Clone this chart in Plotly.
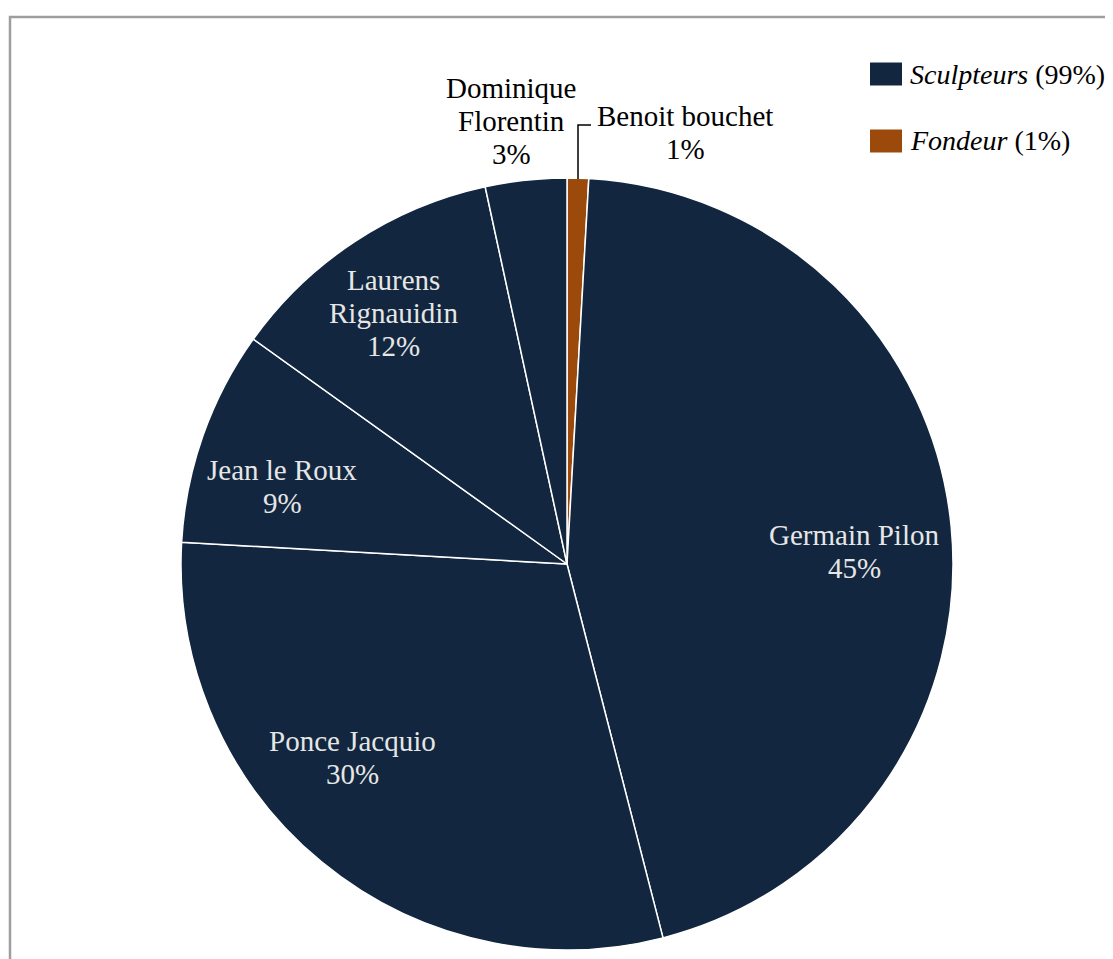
import plotly.graph_objects as go

# Data
names = ["Benoit bouchet", "Germain Pilon", "Ponce Jacquio", "Jean le Roux",
         "Laurens Rignauidin", "Dominique Florentin"]
values = [0.9, 45.1, 29.9, 9.0, 11.7, 3.4]
groups = ["Fondeur", "Sculpteurs", "Sculpteurs", "Sculpteurs", "Sculpteurs", "Sculpteurs"]
label_lines = [["Benoit bouchet"], ["Germain Pilon"], ["Ponce Jacquio"], ["Jean le Roux"],
               ["Laurens", "Rignauidin"], ["Dominique", "Florentin"]]
legend_names = ["Sculpteurs", "Fondeur"]
legend_pcts = ["99%", "1%"]

NAVY = "#12263F"
ORANGE = "#9C4A0B"
group_color = {"Sculpteurs": NAVY, "Fondeur": ORANGE}
colors = [group_color[g] for g in groups]

W, H = 1113, 959
OFF = 8  # page body margin
FONT = "Liberation Serif"
FS = 29
LEG_FS = 28
LINE = 33


def px(x):
    return (x - OFF) / W


def py(y):
    return 1 - (y - OFF) / H


cx, cy, R = 567, 564, 386

fig = go.Figure()
fig.add_trace(go.Pie(
    labels=names, values=values, sort=False, direction="clockwise", rotation=0,
    marker=dict(colors=colors, line=dict(color="white", width=1.5)),
    textinfo="none", hoverinfo="label+percent", showlegend=False,
    domain=dict(x=[px(cx - R), px(cx + R)], y=[py(cy + R), py(cy - R)]),
))

total = sum(values)
# first-line centers in pixels (text placement only)
label_pos = [(685, 116), (854, 535), (352, 741), (282, 470), (393, 280), (511, 88)]
inside = [False, True, True, True, True, False]

annotations = []
for nm_lines, v, (lx, ly), ins in zip(label_lines, values, label_pos, inside):
    pct = f"{round(v / total * 100)}%"
    for i, line in enumerate(nm_lines + [pct]):
        annotations.append(dict(
            x=px(lx), y=py(ly + i * LINE), xref="paper", yref="paper", text=line,
            showarrow=False, xanchor="center", yanchor="middle", align="center",
            font=dict(family=FONT, size=FS, color="#E6E6E6" if ins else "#000000"),
        ))

shapes = []
# leader line for Benoit bouchet
shapes.append(dict(type="path", xref="paper", yref="paper",
                   path=f"M {px(578)},{py(179)} L {px(578)},{py(125)} L {px(591)},{py(125)}",
                   line=dict(color="black", width=1.5)))

# Legend
leg_y = [74, 141]
for nm, pc, ly in zip(legend_names, legend_pcts, leg_y):
    shapes.append(dict(type="rect", xref="paper", yref="paper",
                       x0=px(870), x1=px(902), y0=py(ly + 11.5), y1=py(ly - 11.5),
                       fillcolor=group_color[nm], line=dict(width=0)))
    annotations.append(dict(
        x=px(908), y=py(ly), xref="paper", yref="paper",
        text=f"<i>{nm}</i> ({pc})", showarrow=False, xanchor="left", yanchor="middle",
        font=dict(family=FONT, size=LEG_FS, color="#000000"),
    ))

# chart border (gray)
shapes.append(dict(type="path", xref="paper", yref="paper",
                   path=f"M {px(10)},{-0.01} L {px(10)},{py(17)} L 1.01,{py(17)}",
                   line=dict(color="#9E9E9E", width=2.5)))

fig.update_layout(
    width=W, height=H, margin=dict(l=0, r=0, t=0, b=0),
    paper_bgcolor="white", plot_bgcolor="white",
    annotations=annotations, shapes=shapes,
    font=dict(family=FONT, size=FS),
)

fig.write_html("out.html")
